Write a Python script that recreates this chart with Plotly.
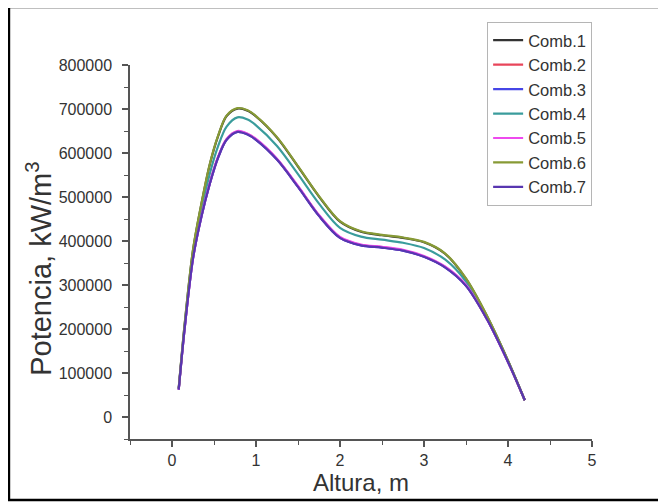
import plotly.graph_objects as go

altura = [0.08, 0.15, 0.25, 0.35, 0.45, 0.55, 0.65, 0.78, 0.9, 1.0, 1.25, 1.5,
          1.75, 2.0, 2.25, 2.5, 2.75, 3.0, 3.25, 3.5, 3.75, 4.0, 4.2]

comb1 = [65000, 209000, 379000, 484000, 574000, 639000, 684000, 701000, 696000, 683000,
         635000, 569000, 501000, 444000, 421000, 413000, 407000, 397000, 371000, 314000,
         229000, 128000, 38000]
comb2 = [62000, 200000, 361000, 456000, 531000, 591000, 631000, 649000, 643000, 631000,
         586000, 524000, 458000, 408000, 391000, 386000, 379000, 365000, 341000, 299000,
         222000, 125000, 38000]
comb3 = [62000, 200000, 360000, 455000, 530000, 590000, 630000, 648000, 642000, 630000,
         585000, 523000, 457000, 407000, 390000, 385000, 378000, 364000, 340000, 298000,
         222000, 125000, 38000]
comb4 = [64000, 205000, 370000, 470000, 553000, 616000, 660000, 681000, 676000, 663000,
         616000, 552000, 485000, 430000, 410000, 403000, 396000, 384000, 358000, 308000,
         227000, 127000, 38000]
comb5 = [62000, 201000, 361000, 457000, 532000, 592000, 632000, 650000, 644000, 632000,
         587000, 525000, 459000, 409000, 392000, 387000, 380000, 366000, 342000, 300000,
         223000, 125000, 38000]
comb6 = [65000, 210000, 380000, 485000, 575000, 640000, 685000, 702000, 697000, 684000,
         636000, 570000, 502000, 445000, 422000, 414000, 408000, 398000, 372000, 315000,
         230000, 128000, 38000]
comb7 = [62000, 200000, 360000, 455000, 530000, 590000, 630000, 648000, 642000, 630000,
         585000, 523000, 457000, 407000, 390000, 385000, 378000, 364000, 340000, 298000,
         222000, 125000, 38000]

names = ["Comb.1", "Comb.2", "Comb.3", "Comb.4", "Comb.5", "Comb.6", "Comb.7"]
series = [comb1, comb2, comb3, comb4, comb5, comb6, comb7]
colors = ["#333333", "#e8455a", "#4646e6", "#3a9c9c", "#ee4aee", "#879a35", "#5836b0"]

x_ticks = [0, 1, 2, 3, 4, 5]
y_ticks = [0, 100000, 200000, 300000, 400000, 500000, 600000, 700000, 800000]

fig = go.Figure()
for name, ys, c in zip(names, series, colors):
    fig.add_trace(go.Scatter(x=altura, y=ys, name=name, mode="lines",
                             line=dict(color=c, width=2.2, shape="spline", smoothing=0.9)))

font_family = "Arial, Liberation Sans, sans-serif"
fig.update_layout(
    width=658, height=495,
    margin=dict(l=122, r=74, t=57, b=64, autoexpand=False),
    paper_bgcolor="white", plot_bgcolor="white",
    font=dict(family=font_family, color="#333333"),
    showlegend=True,
    legend=dict(x=0.773, y=1.115, xanchor="left", yanchor="top",
                bordercolor="#b5b5b5", borderwidth=1, bgcolor="white",
                font=dict(size=16.5, color="#333333"), tracegroupgap=0,
                itemwidth=30),
    xaxis=dict(range=[-0.5, 5], tickvals=x_ticks, ticktext=[str(v) for v in x_ticks],
               showgrid=False, zeroline=False, showline=True, linecolor="#555555",
               linewidth=1.5, ticks="outside", ticklen=6, tickwidth=1.5, tickcolor="#555555",
               tickfont=dict(size=16, color="#333333"),
               minor=dict(dtick=0.5, tick0=0, ticks="outside", ticklen=4, tickwidth=1.2,
                          tickcolor="#555555"),
               title=dict(text="Altura, m", font=dict(size=24, color="#333333"), standoff=6)),
    yaxis=dict(range=[-50000, 800000], tickvals=y_ticks, ticktext=[str(v) for v in y_ticks],
               showgrid=False, zeroline=False, showline=True, linecolor="#555555",
               linewidth=1.5, ticks="outside", ticklen=6, tickwidth=1.5, tickcolor="#555555",
               tickfont=dict(size=16, color="#333333"), ticklabelstandoff=7,
               minor=dict(dtick=50000, tick0=0, ticks="outside", ticklen=4, tickwidth=1.2,
                          tickcolor="#555555")),
    annotations=[dict(text="Potencia, kW/m<sup>3</sup>", textangle=-90, showarrow=False,
                      xref="paper", yref="paper", x=-0.197, y=0.455,
                      xanchor="center", yanchor="middle",
                      font=dict(size=29, color="#333333"))],
    shapes=[dict(type="rect", xref="paper", yref="paper",
                 x0=-0.262, x1=1.147, y0=-0.163, y1=1.155,
                 line=dict(color="black", width=2.5), fillcolor="rgba(0,0,0,0)", layer="below")],
)

fig.write_html("out.html")
